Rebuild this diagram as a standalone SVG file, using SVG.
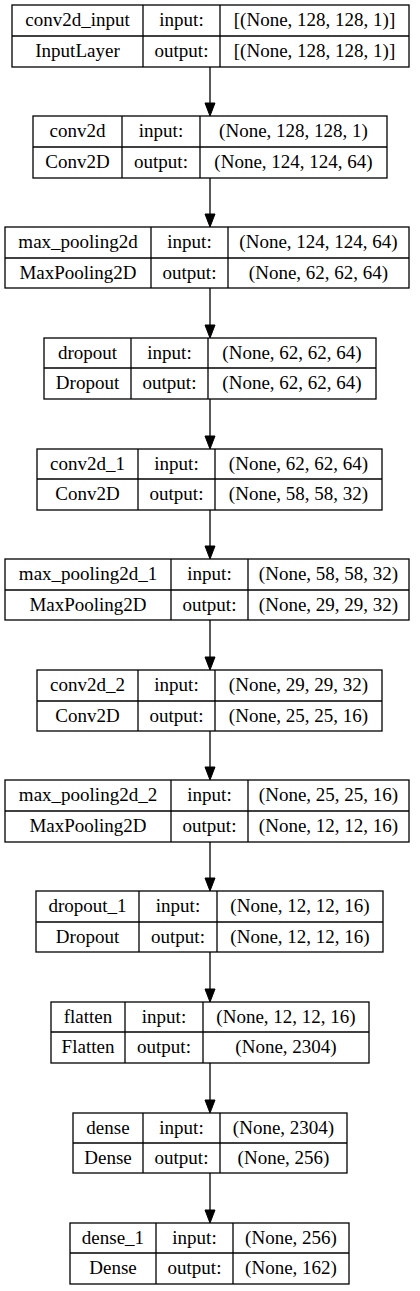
<svg xmlns="http://www.w3.org/2000/svg" width="420" height="1291" viewBox="0 0 420 1291">
<style>
rect{fill:#fff;stroke:#000;stroke-width:1.3}
line.d{stroke:#000;stroke-width:1.3}
text{font-family:"Liberation Serif","Times New Roman",serif;font-size:19px;fill:#000;text-anchor:middle}
.e line{stroke:#000;stroke-width:1.3}
.e polygon{fill:#000;stroke:#000}
</style>
<rect x="0" y="0" width="420" height="1291" style="fill:#fff;stroke:none"/>
<g class="e" id="edges">
<line x1="210" y1="67" x2="210" y2="104"/><polygon points="205,103 215,103 210,116"/>
<line x1="210" y1="178" x2="210" y2="215"/><polygon points="205,214 215,214 210,227"/>
<line x1="210" y1="288" x2="210" y2="326"/><polygon points="205,325 215,325 210,338"/>
<line x1="210" y1="399" x2="210" y2="437"/><polygon points="205,436 215,436 210,449"/>
<line x1="210" y1="510" x2="210" y2="547"/><polygon points="205,546 215,546 210,559"/>
<line x1="210" y1="620" x2="210" y2="658"/><polygon points="205,657 215,657 210,670"/>
<line x1="210" y1="731" x2="210" y2="768"/><polygon points="205,767 215,767 210,780"/>
<line x1="210" y1="842" x2="210" y2="879"/><polygon points="205,878 215,878 210,891"/>
<line x1="210" y1="952" x2="210" y2="990"/><polygon points="205,989 215,989 210,1002"/>
<line x1="210" y1="1063" x2="210" y2="1101"/><polygon points="205,1100 215,1100 210,1113"/>
<line x1="210" y1="1173" x2="210" y2="1211"/><polygon points="205,1210 215,1210 210,1223"/>
</g>
<g id="conv2d_input">
<rect x="12" y="5" width="397" height="62"/><line class="d" x1="12" y1="36" x2="409" y2="36"/><line class="d" x1="143" y1="5" x2="143" y2="67"/><line class="d" x1="220" y1="5" x2="220" y2="67"/>
<text x="77.5" y="26">conv2d_input</text><text x="181.5" y="26">input:</text><text x="314.5" y="26">[(None, 128, 128, 1)]</text>
<text x="77.5" y="57">InputLayer</text><text x="181.5" y="57">output:</text><text x="314.5" y="57">[(None, 128, 128, 1)]</text>
</g>
<g id="conv2d">
<rect x="33" y="116" width="354" height="62"/><line class="d" x1="33" y1="147" x2="387" y2="147"/><line class="d" x1="122" y1="116" x2="122" y2="178"/><line class="d" x1="200" y1="116" x2="200" y2="178"/>
<text x="77.5" y="137">conv2d</text><text x="161" y="137">input:</text><text x="293.5" y="137">(None, 128, 128, 1)</text>
<text x="77.5" y="168">Conv2D</text><text x="161" y="168">output:</text><text x="293.5" y="168">(None, 124, 124, 64)</text>
</g>
<g id="max_pooling2d">
<rect x="5" y="227" width="404" height="61"/><line class="d" x1="5" y1="258" x2="409" y2="258"/><line class="d" x1="151" y1="227" x2="151" y2="288"/><line class="d" x1="228" y1="227" x2="228" y2="288"/>
<text x="78" y="248">max_pooling2d</text><text x="189.5" y="248">input:</text><text x="318.5" y="248">(None, 124, 124, 64)</text>
<text x="78" y="279">MaxPooling2D</text><text x="189.5" y="279">output:</text><text x="318.5" y="279">(None, 62, 62, 64)</text>
</g>
<g id="dropout">
<rect x="44" y="338" width="332" height="61"/><line class="d" x1="44" y1="368" x2="376" y2="368"/><line class="d" x1="131" y1="338" x2="131" y2="399"/><line class="d" x1="208" y1="338" x2="208" y2="399"/>
<text x="87.5" y="359">dropout</text><text x="169.5" y="359">input:</text><text x="292" y="359">(None, 62, 62, 64)</text>
<text x="87.5" y="389">Dropout</text><text x="169.5" y="389">output:</text><text x="292" y="389">(None, 62, 62, 64)</text>
</g>
<g id="conv2d_1">
<rect x="37" y="449" width="345" height="61"/><line class="d" x1="37" y1="479" x2="382" y2="479"/><line class="d" x1="138" y1="449" x2="138" y2="510"/><line class="d" x1="215" y1="449" x2="215" y2="510"/>
<text x="87.5" y="470">conv2d_1</text><text x="176.5" y="470">input:</text><text x="298.5" y="470">(None, 62, 62, 64)</text>
<text x="87.5" y="500">Conv2D</text><text x="176.5" y="500">output:</text><text x="298.5" y="500">(None, 58, 58, 32)</text>
</g>
<g id="max_pooling2d_1">
<rect x="5" y="559" width="404" height="61"/><line class="d" x1="5" y1="590" x2="409" y2="590"/><line class="d" x1="171" y1="559" x2="171" y2="620"/><line class="d" x1="248" y1="559" x2="248" y2="620"/>
<text x="88" y="580">max_pooling2d_1</text><text x="209.5" y="580">input:</text><text x="328.5" y="580">(None, 58, 58, 32)</text>
<text x="88" y="611">MaxPooling2D</text><text x="209.5" y="611">output:</text><text x="328.5" y="611">(None, 29, 29, 32)</text>
</g>
<g id="conv2d_2">
<rect x="37" y="670" width="345" height="61"/><line class="d" x1="37" y1="701" x2="382" y2="701"/><line class="d" x1="138" y1="670" x2="138" y2="731"/><line class="d" x1="215" y1="670" x2="215" y2="731"/>
<text x="87.5" y="691">conv2d_2</text><text x="176.5" y="691">input:</text><text x="298.5" y="691">(None, 29, 29, 32)</text>
<text x="87.5" y="722">Conv2D</text><text x="176.5" y="722">output:</text><text x="298.5" y="722">(None, 25, 25, 16)</text>
</g>
<g id="max_pooling2d_2">
<rect x="5" y="780" width="404" height="62"/><line class="d" x1="5" y1="811" x2="409" y2="811"/><line class="d" x1="171" y1="780" x2="171" y2="842"/><line class="d" x1="248" y1="780" x2="248" y2="842"/>
<text x="88" y="801">max_pooling2d_2</text><text x="209.5" y="801">input:</text><text x="328.5" y="801">(None, 25, 25, 16)</text>
<text x="88" y="832">MaxPooling2D</text><text x="209.5" y="832">output:</text><text x="328.5" y="832">(None, 12, 12, 16)</text>
</g>
<g id="dropout_1">
<rect x="36" y="891" width="347" height="61"/><line class="d" x1="36" y1="922" x2="383" y2="922"/><line class="d" x1="139" y1="891" x2="139" y2="952"/><line class="d" x1="217" y1="891" x2="217" y2="952"/>
<text x="87.5" y="912">dropout_1</text><text x="178" y="912">input:</text><text x="300" y="912">(None, 12, 12, 16)</text>
<text x="87.5" y="943">Dropout</text><text x="178" y="943">output:</text><text x="300" y="943">(None, 12, 12, 16)</text>
</g>
<g id="flatten">
<rect x="51" y="1002" width="318" height="61"/><line class="d" x1="51" y1="1032" x2="369" y2="1032"/><line class="d" x1="125" y1="1002" x2="125" y2="1063"/><line class="d" x1="203" y1="1002" x2="203" y2="1063"/>
<text x="88" y="1023">flatten</text><text x="164" y="1023">input:</text><text x="286" y="1023">(None, 12, 12, 16)</text>
<text x="88" y="1053">Flatten</text><text x="164" y="1053">output:</text><text x="286" y="1053">(None, 2304)</text>
</g>
<g id="dense">
<rect x="73" y="1113" width="274" height="60"/><line class="d" x1="73" y1="1143" x2="347" y2="1143"/><line class="d" x1="143" y1="1113" x2="143" y2="1173"/><line class="d" x1="220" y1="1113" x2="220" y2="1173"/>
<text x="108" y="1134">dense</text><text x="181.5" y="1134">input:</text><text x="283.5" y="1134">(None, 2304)</text>
<text x="108" y="1164">Dense</text><text x="181.5" y="1164">output:</text><text x="283.5" y="1164">(None, 256)</text>
</g>
<g id="dense_1">
<rect x="70" y="1223" width="279" height="61"/><line class="d" x1="70" y1="1253" x2="349" y2="1253"/><line class="d" x1="156" y1="1223" x2="156" y2="1284"/><line class="d" x1="233" y1="1223" x2="233" y2="1284"/>
<text x="113" y="1244">dense_1</text><text x="194.5" y="1244">input:</text><text x="291" y="1244">(None, 256)</text>
<text x="113" y="1274">Dense</text><text x="194.5" y="1274">output:</text><text x="291" y="1274">(None, 162)</text>
</g>
</svg>
